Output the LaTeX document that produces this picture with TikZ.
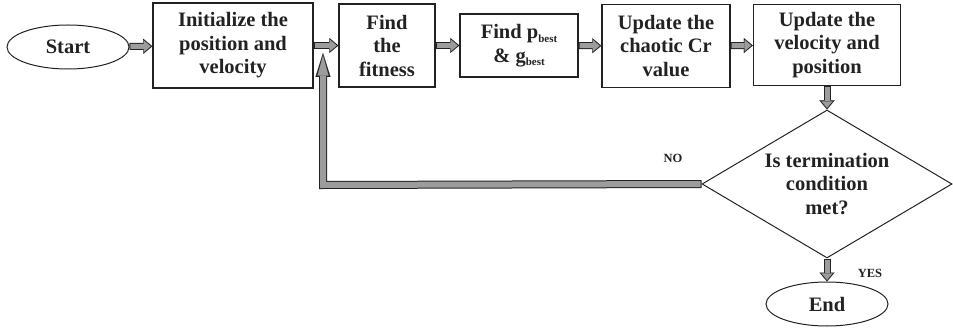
\documentclass[tikz,border=0pt]{standalone}
\usepackage{fontspec}
\setmainfont{Liberation Serif}
\usetikzlibrary{shapes.geometric,arrows.meta}
\definecolor{arrowgray}{HTML}{9C9C9C}
\definecolor{ink}{HTML}{222222}
% small lowered index, as in p_best
\newcommand{\lowidx}[1]{\raisebox{-3.5pt}{\fontsize{11}{11}\selectfont #1}}
\tikzset{
  every node/.style={font=\bfseries\fontsize{20.5}{23.5}\selectfont, text=ink, align=center},
  stepbox/.style={draw=ink, line width=1.4pt, rectangle, inner sep=0pt},
  terminal/.style={draw=ink, line width=1pt, ellipse, inner sep=0pt,
    minimum width=122pt, minimum height=44pt},
  decision/.style={draw=ink, line width=1pt, diamond, inner sep=0pt, aspect=1.7,
    minimum width=250pt, minimum height=148pt},
  % hollow grey arrow: black outline pass, then grey core pass
  flowarrow/.style={draw=ink, line width=7pt,
    -{Triangle[length=9pt,width=15pt,line width=0.01pt]},
    postaction={draw=arrowgray, line width=5pt, shorten <=1pt, shorten >=1.6pt,
      -{Triangle[length=6.5pt,width=11pt,line width=0.01pt]}}},
  loopback/.style={draw=ink, line width=8pt, line join=miter,
    -{Triangle[length=24pt,width=15pt,line width=0.01pt]},
    postaction={draw=arrowgray, line width=6pt, line join=miter, shorten <=1pt, shorten >=2.6pt,
      -{Triangle[length=20pt,width=11pt,line width=0.01pt]}}},
  tag/.style={font=\bfseries\fontsize{12.5}{14}\selectfont}
}
\begin{document}
\begin{tikzpicture}[x=1pt,y=-1pt]
\useasboundingbox (0,0) rectangle (953,331);

% process chain
\node[terminal] (start) at (68,47) {Start};
\node[stepbox, minimum width=160pt, minimum height=85pt] (init) at (233,45.5)
  {Initialize the\\position and\\velocity};
\node[stepbox, minimum width=96pt, minimum height=83pt] (fit) at (387,45.5)
  {Find\\the\\fitness};
\node[stepbox, minimum width=118pt, minimum height=63pt] (best) at (519,45.5)
  {Find p\lowidx{best}\\\& g\lowidx{best}};
\node[stepbox, minimum width=128pt, minimum height=83pt] (chaos) at (666,46)
  {Update the\\chaotic Cr\\value};
\node[stepbox, minimum width=147pt, minimum height=81pt] (vel) at (827,45)
  {Update the\\velocity and\\position};

% termination test
\node[decision] (dec) at (827,184) {Is termination\\condition\\met?};
\node[terminal] (end) at (827,304) {End};

\node[tag] (no) at (673,158) {NO};
\node[tag] (yes) at (870,273) {YES};

% connectors
\draw[flowarrow] (start) -- (init);
\draw[flowarrow] (init) -- (fit);
\draw[flowarrow] (fit) -- (best);
\draw[flowarrow] (best) -- (chaos);
\draw[flowarrow] (chaos) -- (vel);
\draw[flowarrow] (vel) -- (dec);
\draw[flowarrow] (dec) -- (end);

% loop back to the fitness step
\coordinate (turn) at (323,185);
\coordinate (join) at (323,53);
\draw[loopback] (dec.west) -- (turn) -- (join);
\end{tikzpicture}
\end{document}
